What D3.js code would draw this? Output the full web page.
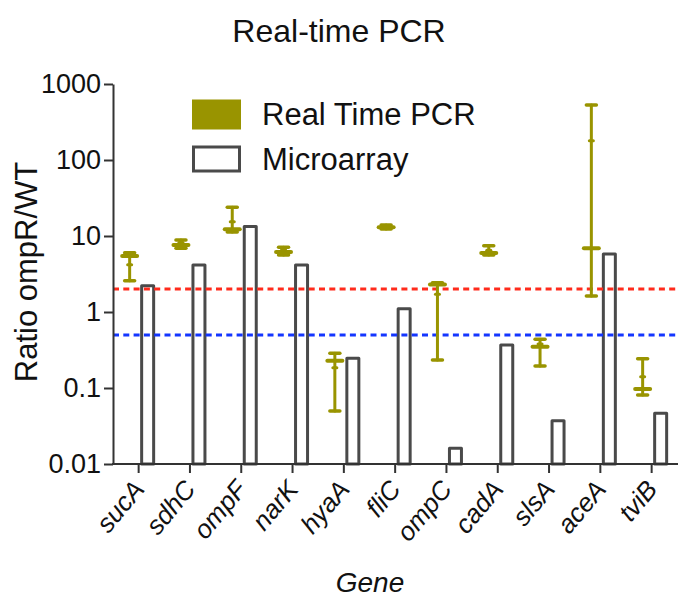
<!DOCTYPE html>
<html><head><meta charset="utf-8">
<script src="https://cdn.jsdelivr.net/npm/d3@7"></script>
<style>
html,body{margin:0;padding:0;background:#fff;}
svg{display:block;font-family:"Liberation Sans",Arial,Helvetica,sans-serif;}
</style></head>
<body><svg id="chart" width="678" height="598"></svg>
<script>
const genes = ["sucA","sdhC","ompF","narK","hyaA","fliC","ompC","cadA","slsA","aceA","tviB"];
const microarray = [2.22, 4.15, 13.3, 4.15, 0.246, 1.1, 0.0161, 0.368, 0.037, 5.8, 0.0465];
const pcrMean = [5.45, 7.6, 12.3, 6.16, 0.229, 13.0, 2.3, 5.97, 0.349, 6.89, 0.097];
const pcrMid  = [4.2, 8.2, 15.4, 6.6, 0.185, 13.0, 1.71, 6.5, 0.38, 179, 0.141];
const pcrLow  = [2.58, 6.89, 11.3, 5.63, 0.0498, 12.4, 0.233, 5.62, 0.195, 1.62, 0.081];
const pcrHigh = [6.03, 8.86, 23.9, 7.1, 0.286, 14.0, 2.43, 7.45, 0.437, 529, 0.243];
const thresholds = [2, 0.5];
const yTicks = [0.01, 0.1, 1, 10, 100, 1000];
const yTickLabels = ["0.01","0.1","1","10","100","1000"];
const legendLabels = ["Real Time PCR","Microarray"];

const olive = "#999400", barStroke = "#4a4a4a", axisCol = "#333";
const svg = d3.select("#chart");
const x = d3.scaleBand().domain(genes).range([113, 677.3]).padding(0);
const y = d3.scaleLog().domain([0.01, 1000]).range([464, 84]);
const cx = g => x(g) + x.bandwidth()/2;

// title
svg.append("text").attr("x", 339).attr("y", 42).attr("text-anchor","middle")
  .attr("font-size", 32).attr("fill","#111").text("Real-time PCR");

// microarray bars
svg.append("g").selectAll("rect").data(genes).join("rect")
  .attr("x", (g)=>cx(g)+9-6).attr("width", 12)
  .attr("y", (g,i)=>y(microarray[i])).attr("height", (g,i)=>y(0.01)-y(microarray[i]))
  .attr("fill","#fff").attr("stroke", barStroke).attr("stroke-width", 3)
  .attr("stroke-linejoin","round");

// threshold lines
svg.append("g").selectAll("line").data(thresholds).join("line")
  .attr("x1", 113).attr("x2", 678).attr("y1", d=>y(d)).attr("y2", d=>y(d))
  .attr("stroke", (d,i)=> i===0 ? "#ff2b1c" : "#1436ff").attr("stroke-width", 3)
  .attr("stroke-dasharray","6,4.3");

// PCR error bars
const eb = svg.append("g").attr("stroke", olive).attr("stroke-linecap","round");
genes.forEach((g,i)=>{
  const px = cx(g) - 9;
  eb.append("line").attr("x1",px).attr("x2",px).attr("y1",y(pcrLow[i])).attr("y2",y(pcrHigh[i])).attr("stroke-width",3);
  [pcrLow[i], pcrHigh[i]].forEach(v=>{
    eb.append("line").attr("x1",px-5).attr("x2",px+5).attr("y1",y(v)).attr("y2",y(v)).attr("stroke-width",3.5);
  });
  eb.append("line").attr("x1",px-7.5).attr("x2",px+7.5).attr("y1",y(pcrMean[i])).attr("y2",y(pcrMean[i])).attr("stroke-width",4);
  eb.append("line").attr("x1",px-2).attr("x2",px+2).attr("y1",y(pcrMid[i])).attr("y2",y(pcrMid[i])).attr("stroke-width",3);
});

// y axis
const yAxis = d3.axisLeft(y).tickValues(yTicks).tickFormat((d,i)=>yTickLabels[i]).tickSize(9).tickSizeOuter(0).tickPadding(3);
const ya = svg.append("g").attr("transform","translate(113,0)").call(yAxis);
ya.select(".domain").attr("stroke",axisCol).attr("stroke-width",2);
ya.selectAll(".tick line").attr("stroke",axisCol).attr("stroke-width",2);
ya.selectAll(".tick text").attr("font-size",27).attr("fill","#111").attr("font-family","Liberation Sans, Arial, sans-serif");

// x axis
const xAxis = d3.axisBottom(x).tickSize(9).tickSizeOuter(0).tickPadding(4);
const xa = svg.append("g").attr("transform","translate(0,464)").call(xAxis);
xa.select(".domain").attr("stroke",axisCol).attr("stroke-width",2).attr("d","M112,0H678");
xa.selectAll(".tick line").attr("stroke",axisCol).attr("stroke-width",2);
xa.selectAll(".tick text").attr("font-size",26).attr("font-style","italic").attr("fill","#111")
  .attr("font-family","Liberation Sans, Arial, sans-serif")
  .attr("text-anchor","end").attr("x",0).attr("y",0).attr("dy","0.35em")
  .attr("transform","translate(0,20) rotate(-50)");

// axis titles
svg.append("text").attr("transform","translate(37,272) rotate(-90)").attr("text-anchor","middle")
  .attr("font-size",31).attr("fill","#111").text("Ratio ompR/WT");
svg.append("text").attr("x",370).attr("y",592).attr("text-anchor","middle")
  .attr("font-size",28).attr("font-style","italic").attr("fill","#111").text("Gene");

// legend
const lg = svg.append("g");
lg.append("rect").attr("x",192).attr("y",99.5).attr("width",49).attr("height",30).attr("fill",olive);
lg.append("rect").attr("x",193.5).attr("y",147).attr("width",46).attr("height",24)
  .attr("fill","#fff").attr("stroke",barStroke).attr("stroke-width",3);
lg.selectAll("text").data(legendLabels).join("text")
  .attr("x",262).attr("y",(d,i)=>125+i*45).attr("font-size",31).attr("fill","#111").text(d=>d);
</script></body></html>
